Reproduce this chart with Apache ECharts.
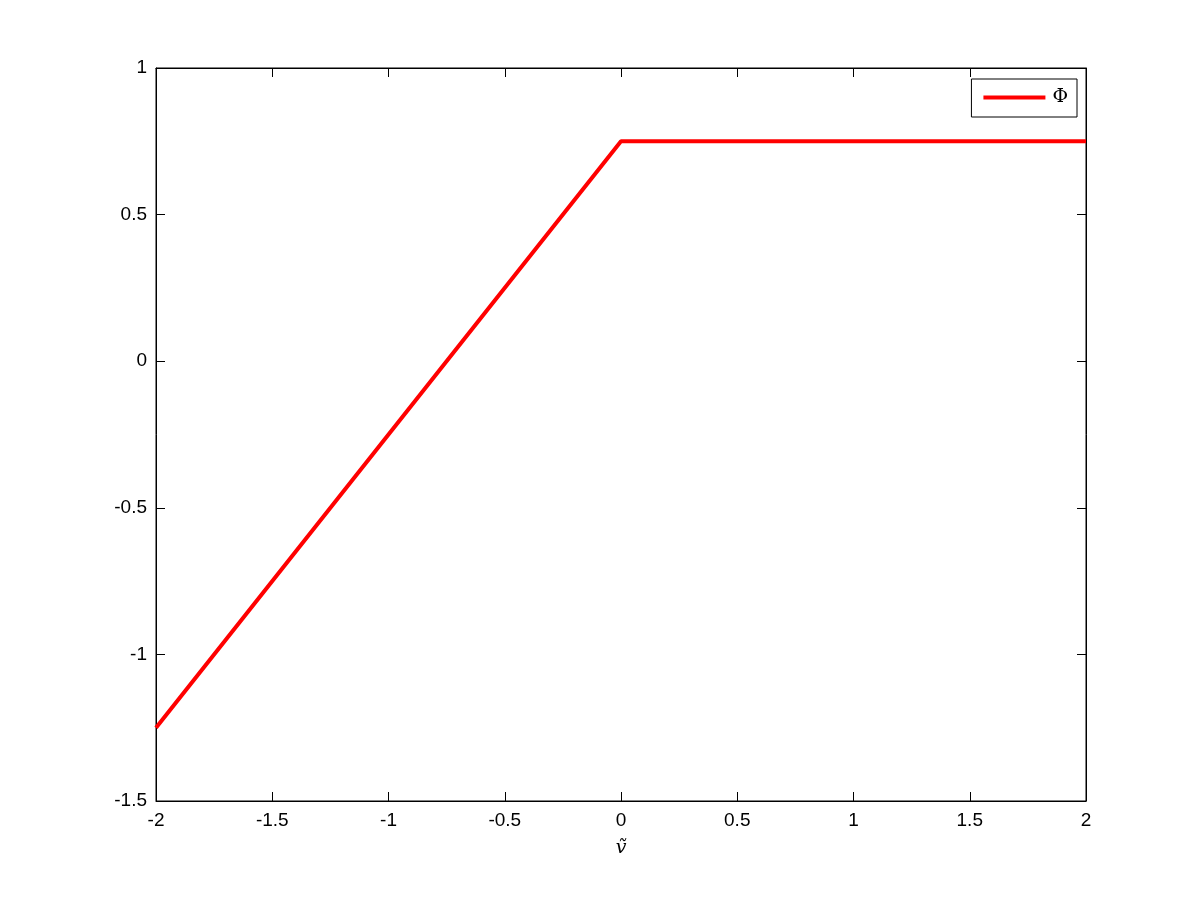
<!DOCTYPE html>
<html>
<head>
<meta charset="utf-8">
<script src="https://cdn.jsdelivr.net/npm/echarts@6/dist/echarts.min.js"></script>
<style>
  html, body { margin: 0; padding: 0; background: #fff; }
  #chart { width: 1200px; height: 900px; }
</style>
</head>
<body>
<div id="chart"></div>
<script>
var xValues = [-2, 0, 2];
var phiValues = [-1.25, 0.75, 0.75];
var xTicks = [-2, -1.5, -1, -0.5, 0, 0.5, 1, 1.5, 2];
var yTicks = [-1.5, -1, -0.5, 0, 0.5, 1];

var chart = echarts.init(document.getElementById('chart'));

var labelFont = { color: '#000', fontSize: 19, fontFamily: 'Liberation Sans, Arial, sans-serif' };
function fmt(v) { return String(v); }

var option = {
    animation: false,
    backgroundColor: '#fff',
    grid: { left: 156, right: 114, top: 68, bottom: 99, show: true, borderColor: '#000', borderWidth: 1 },
    legend: {
        data: [{ name: 'Φ' }],
        right: 123,
        top: 79,
        orient: 'vertical',
        backgroundColor: '#fff',
        borderColor: '#000',
        borderWidth: 1,
        borderRadius: 0,
        padding: [9, 9, 10, 12],
        itemWidth: 62,
        itemHeight: 4,
        itemGap: 0,
        icon: 'rect',
        textStyle: { color: '#000', fontSize: 19, fontFamily: 'DejaVu Serif, serif', padding: [0, 0, 0, 2] }
    },
    xAxis: [{
        type: 'value', min: -2, max: 2, interval: 0.5,
        position: 'bottom',
        name: 'ṽ', nameLocation: 'middle', nameGap: 38,
        nameTextStyle: { color: '#000', fontSize: 19, fontStyle: 'italic', fontFamily: 'DejaVu Serif, serif' },
        axisLine: { show: true, onZero: false, lineStyle: { color: '#000' } },
        axisTick: { show: true, inside: true, length: 9, lineStyle: { color: '#000' } },
        axisLabel: Object.assign({ margin: 10, formatter: fmt }, labelFont),
        splitLine: { show: false }
    }, {
        type: 'value', min: -2, max: 2, interval: 0.5,
        position: 'top',
        axisLine: { show: true, onZero: false, lineStyle: { color: '#000' } },
        axisTick: { show: true, inside: true, length: 9, lineStyle: { color: '#000' } },
        axisLabel: { show: false },
        splitLine: { show: false }
    }],
    yAxis: [{
        type: 'value', min: -1.5, max: 1, interval: 0.5,
        position: 'left',
        axisLine: { show: true, onZero: false, lineStyle: { color: '#000' } },
        axisTick: { show: true, inside: true, length: 9, lineStyle: { color: '#000' } },
        axisLabel: Object.assign({ margin: 9, formatter: fmt }, labelFont),
        splitLine: { show: false }
    }, {
        type: 'value', min: -1.5, max: 1, interval: 0.5,
        position: 'right',
        axisLine: { show: true, onZero: false, lineStyle: { color: '#000' } },
        axisTick: { show: true, inside: true, length: 9, lineStyle: { color: '#000' } },
        axisLabel: { show: false },
        splitLine: { show: false }
    }],
    series: [{
        name: 'Φ',
        type: 'line',
        data: xValues.map(function (x, i) { return [x, phiValues[i]]; }),
        showSymbol: false,
        symbol: 'none',
        color: '#f00',
        lineStyle: { color: '#f00', width: 4 }
    }]
};
chart.setOption(option);
</script>
</body>
</html>
